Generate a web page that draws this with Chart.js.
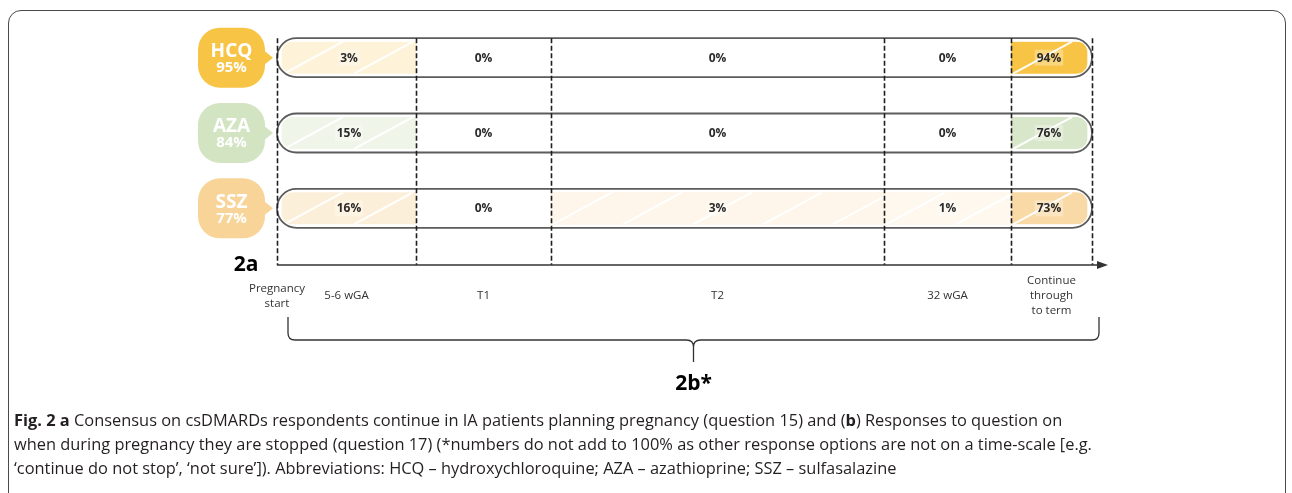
<!DOCTYPE html>
<html><head><meta charset="utf-8">
<script src="https://cdn.jsdelivr.net/npm/chart.js@4.4.1/dist/chart.umd.min.js"></script>
<style>
html,body{margin:0;padding:0;background:#fff;}
#wrap{position:relative;width:1292px;height:493px;overflow:hidden;}
#frame{position:absolute;left:8px;top:10px;width:1278px;height:620px;border:1.5px solid #4a4a4a;border-radius:13px;box-sizing:border-box;}
#c{position:absolute;left:0;top:0;}
#caption{position:absolute;left:14px;top:408px;font-family:'Open Sans',sans-serif;font-size:16.4px;line-height:24px;color:#231f20;white-space:nowrap;}
</style></head>
<body><div id="wrap"><div id="frame"></div><canvas id="c" width="1292" height="493"></canvas>
<div id="caption"><b>Fig. 2</b> <b>a</b> Consensus on csDMARDs respondents continue in IA patients planning pregnancy (question 15) and (<b>b</b>) Responses to question on<br>when during pregnancy they are stopped (question 17) (*numbers do not add to 100% as other response options are not on a time-scale [e.g.<br>‘continue do not stop’, ‘not sure’]). Abbreviations: HCQ – hydroxychloroquine; AZA – azathioprine; SSZ – sulfasalazine</div>
</div>
<script>
// ---- data ----
const drugs = ['HCQ', 'AZA', 'SSZ'];
const consensus = [95, 84, 77];             // % respondents who continue (2a)
const startLabel = ['Pregnancy', 'start'];
const stageLabels = ['5-6 wGA', 'T1', 'T2', '32 wGA', ['Continue', 'through', 'to term']];
const stageSpan = [139, 135, 333, 127, 81]; // relative width of each time-scale stage
const hcqStop = [3, 0, 0, 0, 94];
const azaStop = [15, 0, 0, 0, 76];
const sszStop = [16, 0, 3, 1, 73];
const stopValues = [hcqStop, azaStop, sszStop];
const drugColors = ['#F8C445', '#D2E4C2', '#F8D498'];

const total = stageSpan.reduce((a, b) => a + b, 0);
const edges = stageSpan.reduce((acc, w) => { acc.push(acc[acc.length - 1] + w); return acc; }, [0]);
const tickValues = [0].concat(stageSpan.map((w, i) => edges[i] + w / 2));
const tickLabels = [startLabel].concat(stageLabels);
const last = stageSpan.length - 1;

function hexToRgb(h) { const n = parseInt(h.slice(1), 16); return [(n >> 16) & 255, (n >> 8) & 255, n & 255]; }
function shade(hex, v) {
  if (!v) return 'rgba(0,0,0,0)';
  const t = 0.14 + 0.86 * Math.pow(v / 94, 0.75);
  const c = hexToRgb(hex).map(x => Math.round(255 - (255 - x) * Math.min(1, t)));
  return `rgb(${c[0]},${c[1]},${c[2]})`;
}

const datasets = stageSpan.map((span, s) => ({
  label: [].concat(stageLabels[s]).join(' '),
  data: drugs.map(() => span),
  stops: drugs.map((d, i) => stopValues[i][s]),
  backgroundColor: drugs.map((d, i) => shade(drugColors[i], stopValues[i][s])),
  borderColor: 'rgba(0,0,0,0)',
  borderWidth: s === 0 ? { left: 5, top: 0, right: 0, bottom: 0 } : s === last ? { left: 0, top: 0, right: 5, bottom: 0 } : 0,
  borderSkipped: false,
  borderRadius: s === 0 ? { topLeft: 16, bottomLeft: 16, topRight: 0, bottomRight: 0 } : s === last ? { topLeft: 0, bottomLeft: 0, topRight: 16, bottomRight: 16 } : 0,
  barThickness: 32
}));

function rrect(ctx, x, y, w, h, r) {
  ctx.beginPath();
  ctx.moveTo(x + r, y); ctx.lineTo(x + w - r, y); ctx.arcTo(x + w, y, x + w, y + r, r);
  ctx.lineTo(x + w, y + h - r); ctx.arcTo(x + w, y + h, x + w - r, y + h, r);
  ctx.lineTo(x + r, y + h); ctx.arcTo(x, y + h, x, y + h - r, r);
  ctx.lineTo(x, y + r); ctx.arcTo(x, y, x + r, y, r); ctx.closePath();
}

const decor = {
  id: 'decor',
  afterDatasetsDraw(chart) {
    const ctx = chart.ctx, xs = chart.scales.x, ys = chart.scales.y, ca = chart.chartArea;
    const x0 = xs.getPixelForValue(0), x1 = xs.getPixelForValue(total);
    const axisY = ca.bottom + 19;
    const half = 19.5;
    const labels = [];
    chart.data.datasets.forEach((ds, s) => {
      const meta = chart.getDatasetMeta(s);
      meta.data.forEach((el, i) => {
        const p = el.getProps(['x', 'y', 'base', 'height'], true);
        const L = Math.min(p.base, p.x) + (s === 0 ? 5 : 0);
        const R = Math.max(p.base, p.x) - (s === last ? 5 : 0);
        const top = p.y - p.height / 2, bot = p.y + p.height / 2;
        const v = ds.stops[i];
        if (v > 0) {
          ctx.save();
          ctx.beginPath(); ctx.rect(L, top, R - L, p.height); ctx.clip();
          ctx.strokeStyle = 'rgba(255,255,255,0.95)'; ctx.lineWidth = 2;
          const run = 59 * p.height / 32;
          for (let k = 0; ; k++) {
            const sx = L + 2 + k * 70;
            if (sx > R - 25) break;
            ctx.beginPath(); ctx.moveTo(sx, bot); ctx.lineTo(sx + run, top); ctx.stroke();
          }
          ctx.restore();
        }
        labels.push({ x: (L + R) / 2, y: p.y, v });
      });
    });
    // outlines
    ctx.save();
    ctx.strokeStyle = '#5c5c5c'; ctx.lineWidth = 1.8;
    drugs.forEach((d, i) => {
      const cy = ys.getPixelForValue(i);
      rrect(ctx, x0, cy - half, x1 - x0, half * 2, half); ctx.stroke();
    });
    ctx.restore();
    // dashed stage boundaries
    ctx.save();
    ctx.strokeStyle = '#1e1e1e'; ctx.lineWidth = 1.6; ctx.setLineDash([5, 2.5]);
    const yTop = ys.getPixelForValue(0) - half;
    edges.forEach(e => {
      const x = Math.round(xs.getPixelForValue(e)) + 0.5;
      ctx.beginPath(); ctx.moveTo(x, yTop); ctx.lineTo(x, axisY); ctx.stroke();
    });
    ctx.restore();
    // value labels
    ctx.save();
    ctx.font = 'bold 12px "Open Sans"'; ctx.textAlign = 'center'; ctx.textBaseline = 'middle';
    labels.forEach(l => {
      const t = l.v + '%';
      if (l.v > 0) {
        const w = ctx.measureText(t).width;
        ctx.fillStyle = 'rgba(255,255,255,0.3)';
        ctx.fillRect(l.x - w / 2 - 2, l.y - 8, w + 4, 16);
      }
      ctx.fillStyle = '#2b2b2b';
      ctx.fillText(t, l.x, l.y + 0.5);
    });
    ctx.restore();
    // axis with arrow
    ctx.save();
    ctx.strokeStyle = '#333'; ctx.fillStyle = '#333'; ctx.lineWidth = 1.5;
    const tip = x1 + 16;
    ctx.beginPath(); ctx.moveTo(x0, axisY); ctx.lineTo(tip - 4, axisY); ctx.stroke();
    ctx.beginPath(); ctx.moveTo(tip, axisY); ctx.lineTo(tip - 11, axisY - 4); ctx.lineTo(tip - 11, axisY + 4); ctx.closePath(); ctx.fill();
    ctx.restore();
    // bubbles (2a)
    ctx.save();
    drugs.forEach((d, i) => {
      const cy = ys.getPixelForValue(i);
      const bl = x0 - 79, bw = 67, bh = 60;
      ctx.fillStyle = drugColors[i];
      rrect(ctx, bl, cy - bh / 2, bw, bh, 22); ctx.fill();
      ctx.beginPath(); ctx.moveTo(bl + bw - 2, cy - 8); ctx.lineTo(x0 - 4, cy); ctx.lineTo(bl + bw - 2, cy + 8); ctx.closePath(); ctx.fill();
      ctx.fillStyle = '#fff'; ctx.textAlign = 'center'; ctx.textBaseline = 'middle';
      ctx.font = 'bold 19px "Open Sans"';
      ctx.fillText(d, bl + bw / 2, cy - 6);
      ctx.font = 'bold 15px "Open Sans"';
      ctx.fillText(consensus[i] + '%', bl + bw / 2, cy + 10);
    });
    ctx.fillStyle = '#000'; ctx.font = 'bold 21px "Open Sans"'; ctx.textAlign = 'center'; ctx.textBaseline = 'middle';
    ctx.fillText('2a', x0 - 31, axisY);
    ctx.restore();
    // brace (2b)
    ctx.save();
    const L = x0 + 11, R = x1 + 7, M = (L + R) / 2, yT = 317, yH = 340, yB = 362;
    ctx.strokeStyle = '#333'; ctx.lineWidth = 1.3;
    ctx.beginPath();
    ctx.moveTo(L, yT); ctx.lineTo(L, yH - 7); ctx.quadraticCurveTo(L, yH, L + 7, yH); ctx.lineTo(M - 7, yH); ctx.quadraticCurveTo(M, yH, M, yH + 7); ctx.lineTo(M, yB);
    ctx.moveTo(R, yT); ctx.lineTo(R, yH - 7); ctx.quadraticCurveTo(R, yH, R - 7, yH); ctx.lineTo(M + 7, yH); ctx.quadraticCurveTo(M, yH, M, yH + 7);
    ctx.stroke();
    ctx.fillStyle = '#000'; ctx.font = 'bold 21px "Open Sans"'; ctx.textAlign = 'center'; ctx.textBaseline = 'middle';
    ctx.fillText('2b*', M, 384);
    ctx.restore();
  }
};

function build() {
  new Chart(document.getElementById('c'), {
    type: 'bar',
    data: { labels: drugs, datasets },
    options: {
      indexAxis: 'y',
      responsive: false,
      animation: false,
      devicePixelRatio: 1,
      layout: { padding: { left: 277, right: 200, top: 20, bottom: 0 } },
      plugins: { legend: { display: false }, tooltip: { enabled: false } },
      scales: {
        x: {
          type: 'linear', stacked: true, min: 0, max: total,
          grid: { display: false, drawTicks: false }, border: { display: false },
          afterBuildTicks: (scale) => { scale.ticks = tickValues.map(v => ({ value: v })); },
          afterFit: (scale) => { scale.height = 247; },
          ticks: {
            autoSkip: false, maxRotation: 0, minRotation: 0, padding: 35, crossAlign: 'center',
            color: '#333', font: { family: 'Open Sans', size: 11.5, lineHeight: 1.3 },
            callback: (v, i) => tickLabels[i]
          }
        },
        y: { type: 'category', stacked: true, display: false }
      }
    },
    plugins: [decor]
  });
}
const fl = document.fonts ? Promise.all([document.fonts.load('bold 12px "Open Sans"'), document.fonts.load('11px "Open Sans"')]) : Promise.resolve();
fl.then(build, build);
</script>
</body></html>
